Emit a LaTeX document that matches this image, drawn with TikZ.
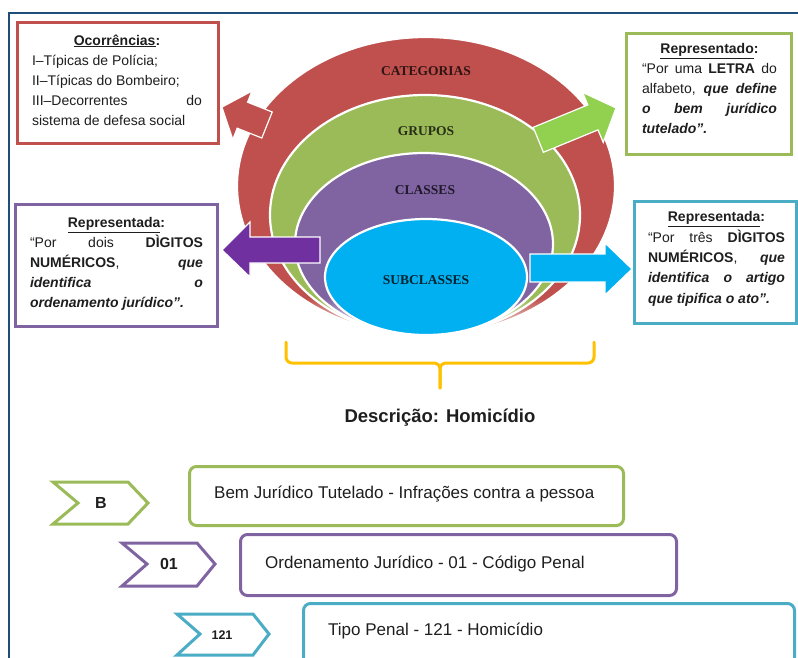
\documentclass[tikz,border=0pt]{standalone}
\usepackage{fontspec}
\setmainfont{Liberation Sans}
\newfontfamily\ringfont{Liberation Serif}
\usetikzlibrary{shapes.geometric,fadings}
\definecolor{redc}{HTML}{C0504D}
\definecolor{greenc}{HTML}{9BBB59}
\definecolor{purplec}{HTML}{8064A2}
\definecolor{cyanc}{HTML}{4BACC6}
\definecolor{skyc}{HTML}{00B0F0}
\definecolor{lgreenc}{HTML}{92D050}
\definecolor{dpurplec}{HTML}{7030A0}
\definecolor{goldc}{HTML}{FFC000}
\definecolor{navyc}{HTML}{1F4E79}
\definecolor{txtc}{HTML}{1E1E1E}
\tikzfading[name=fadedown, top color=transparent!100, bottom color=transparent!0]
\begin{document}
\begin{tikzpicture}[x=1pt,y=-1pt,
  infobox/.style={draw, line width=3pt, fill=white, inner sep=0pt},
  boxtext/.style={anchor=north, inner sep=0pt, align=justify, text=txtc,
    font=\fontsize{14}{20}\selectfont},
  ring/.style={ellipse, draw=white, line width=2.2pt, inner sep=0pt},
  ringlabel/.style={font=\ringfont\bfseries\fontsize{13.5}{15}\selectfont},
  blockarrow/.style={draw=white, line width=1.2pt, line join=miter},
  chevron/.style={draw, line width=3pt, fill=white, line join=miter},
  codebox/.style={draw, line width=3pt, rounded corners=7pt, anchor=north west, inner sep=0pt},
  codetext/.style={anchor=west, inner sep=0pt, text=txtc, font=\fontsize{17}{20}\selectfont},
  chevtext/.style={inner sep=0pt, text=txtc, font=\bfseries\fontsize{16}{18}\selectfont}
]
\useasboundingbox (0,0) rectangle (798,657);
\clip (0,0) rectangle (798,657);

% frame
\draw[navyc, line width=2.5pt] (9,660) -- (9,13) -- (800,13);

% nested rings
\node[ring, fill=redc, minimum width=378pt, minimum height=298pt] (cat) at (426,186) {};
\node[ring, fill=greenc, minimum width=310pt, minimum height=240pt] (grp) at (425,215) {};
\node[ring, fill=purplec, minimum width=258pt, minimum height=182pt] (cls) at (424,244) {};
% soft fade of the ring bottoms
\fill[white, path fading=fadedown] (230,298) rectangle (625,338);
\node[ring, fill=skyc, minimum width=202pt, minimum height=116pt] (sub) at (426,277) {};

\node[ringlabel, text=redc!25!black] (lcat) at (426,71) {CATEGORIAS};
\node[ringlabel, text=greenc!25!black] (lgrp) at (426,131) {GRUPOS};
\node[ringlabel, text=purplec!25!black] (lcls) at (425,190) {CLASSES};
\node[ringlabel, text=skyc!20!black] (lsub) at (426,280) {SUBCLASSES};

% block arrows
\path[blockarrow, fill=redc] (272.2,112) -- (247.6,102.2) -- (252,91) -- (221.9,107.1)
  -- (232.8,139.4) -- (237.2,128.2) -- (261.8,138) -- cycle;
\path[blockarrow, fill=lgreenc] (533.2,127.3) -- (587.8,104.9) -- (582.6,92.4) -- (616,107.9)
  -- (603.2,142.4) -- (598,129.9) -- (543.4,152.3) -- cycle;
\path[blockarrow, fill=dpurplec] (320,237) -- (250,237) -- (250,222) -- (222,250)
  -- (250,277) -- (250,263) -- (320,263) -- cycle;
\path[blockarrow, fill=skyc] (530,254) -- (605,254) -- (605,243) -- (632,269)
  -- (605,295) -- (605,282) -- (530,282) -- cycle;

% info boxes
\node[infobox, draw=redc, minimum width=201pt, minimum height=121pt] (rbox) at (118,83) {};
\node[infobox, draw=greenc, minimum width=165pt, minimum height=121pt] (gbox) at (709,93.5) {};
\node[infobox, draw=purplec, minimum width=202pt, minimum height=122pt] (pbox) at (116,265.5) {};
\node[infobox, draw=cyanc, minimum width=162pt, minimum height=122pt] (cbox) at (715,262.5) {};

\node[boxtext, text width=170pt] (rtext) at (117,34.5) {{\centering\textbf{\underline{Ocorrências}:}\par}
I–Típicas de Polícia;\\
II–Típicas do Bombeiro;\\
III–Decorrentes do\linebreak sistema de defesa social};

\node[boxtext, text width=135pt] (gtext) at (709.5,43.5) {{\centering\textbf{\underline{Representado}:}\par}
“Por uma \textbf{LETRA} do\linebreak alfabeto, \textbf{\textit{que define}}\linebreak
\textbf{\textit{o bem jurídico}}\linebreak \textbf{\textit{tutelado”.}}};

\node[boxtext, text width=173pt] (ptext) at (116.5,217.5) {{\centering\textbf{\underline{Representada}:}\par}
“Por dois \textbf{DÌGITOS}\linebreak \textbf{NUMÉRICOS}, \textbf{\textit{que}}\linebreak
\textbf{\textit{identifica o}}\linebreak \textbf{\textit{ordenamento jurídico”.}}};

\node[boxtext, text width=137pt, font=\fontsize{14}{20.3}\selectfont] (ctext) at (716.5,211.5) {{\centering\textbf{\underline{Representada}:}\par}
“Por três \textbf{DÌGITOS}\linebreak \textbf{NUMÉRICOS}, \textbf{\textit{que}}\linebreak
\textbf{\textit{identifica o artigo}}\linebreak \textbf{\textit{que tipifica o ato”.}}};

% bracket
\coordinate (bl) at (286,342);
\coordinate (br) at (594,342);
\coordinate (bm) at (440,363);
\coordinate (bt) at (440,388);
\draw[goldc, line width=3pt, rounded corners=6pt, line cap=round] (bl) -- (286,363) -- (bm) -- (bt);
\draw[goldc, line width=3pt, rounded corners=6pt, line cap=round] (br) -- (594,363) -- (bm) -- (bt);

\node[text=txtc, font=\bfseries\fontsize{18.5}{21}\selectfont] (desc) at (440,418) {Descrição: Homicídio};

% code rows
\node[codebox, draw=greenc, minimum width=434pt, minimum height=59pt] (r1) at (188,465) {};
\node[codebox, draw=purplec, minimum width=436pt, minimum height=61pt] (r2) at (239,533) {};
\node[codebox, draw=cyanc, minimum width=491pt, minimum height=100pt] (r3) at (302,602) {};

\node[codetext] (t1) at (214,494) {Bem Jurídico Tutelado - Infrações contra a pessoa};
\node[codetext] (t2) at (265,563.5) {Ordenamento Jurídico - 01 - Código Penal};
\node[codetext] (t3) at (328,631) {Tipo Penal - 121 - Homicídio};

\draw[chevron, draw=greenc] (53,482) -- (128,482) -- (148,503) -- (128,524) -- (53,524) -- (78,503) -- cycle;
\draw[chevron, draw=purplec] (122,543) -- (197,543) -- (215,564) -- (197,586) -- (122,586) -- (147,564) -- cycle;
\draw[chevron, draw=cyanc] (177,614) -- (253,614) -- (269,634) -- (253,655) -- (177,655) -- (200,634) -- cycle;

\node[chevtext] (c1) at (101,503) {B};
\node[chevtext] (c2) at (169,564) {01};
\node[chevtext, font=\bfseries\fontsize{12.5}{14}\selectfont] (c3) at (222,635) {121};
\end{tikzpicture}
\end{document}
